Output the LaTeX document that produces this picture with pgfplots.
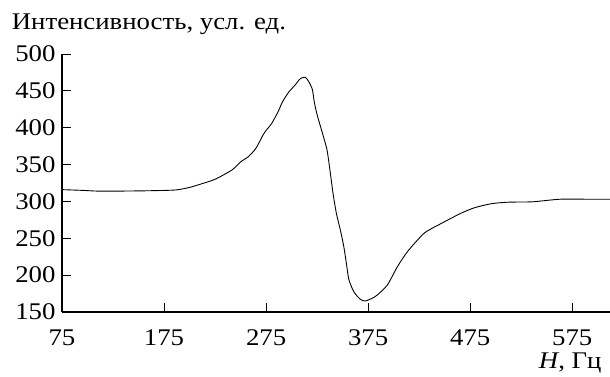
\documentclass[border=0pt]{standalone}
\usepackage{fontspec}
\setmainfont[FakeStretch=1.12]{Liberation Serif}
\usepackage{pgfplots}
\pgfplotsset{compat=1.18}
\begin{document}
\begin{tikzpicture}[font=\fontsize{24}{28}\selectfont]
\useasboundingbox (-62bp,-65bp) rectangle (548bp,312bp);
\begin{axis}[
  at={(0,0)}, anchor=south west,
  scale only axis,
  width=548bp, height=258bp,
  xmin=75, xmax=612, ymin=150, ymax=500,
  axis x line*=bottom, axis y line*=left,
  axis line style={line width=1.1pt, black},
  xtick={75,175,275,375,475,575},
  ytick={150,200,...,500},
  tick align=inside,
  major tick length=9bp,
  tick style={black, line width=0.9pt},
  /pgf/number format/assume math mode=true,
  tick label style={font=\fontsize{24}{28}\selectfont},
  xticklabel style={anchor=base, yshift=-33bp, inner sep=1bp},
  yticklabel style={anchor=east, xshift=-3bp},
  clip=false,
]
\addplot[black, line width=0.9pt, smooth, tension=0.4] coordinates {
(75,316) (95,315) (110,314) (130,314) (160,314.5) (186,315.5) (200,319)
(212,324) (225,330) (241.6,342.7) (250.3,354) (257,360) (265,372)
(273,392.5) (280.6,406) (287.2,423) (291,435) (297,448) (303.5,458)
(308.4,466.5) (313.3,468.5) (316.6,463) (320.3,452) (322.2,435) (324.9,418)
(329.8,394.6) (334.7,369.8) (338,338) (340.6,310.8) (343.9,283.7)
(347.8,261) (351.2,238.3) (353.7,215.8) (356.1,194) (361,177.3)
(367.5,167) (372.4,165) (378.9,168.6) (383.9,173) (393.8,186.6)
(403.7,211.5) (413.6,232) (430,257) (446.5,270) (466,284) (479.4,291.5)
(496,297) (512.8,299) (536,299.5) (563,303) (590,303) (612,303)
};
\end{axis}
\node[anchor=base east, inner sep=0pt] at (539.7bp,-56.5bp) {\textit{H}, Гц};
\node[anchor=base west, inner sep=0pt] at (-50.3bp,282.7bp) {Интенсивность, усл. ед.};
\end{tikzpicture}
\end{document}
